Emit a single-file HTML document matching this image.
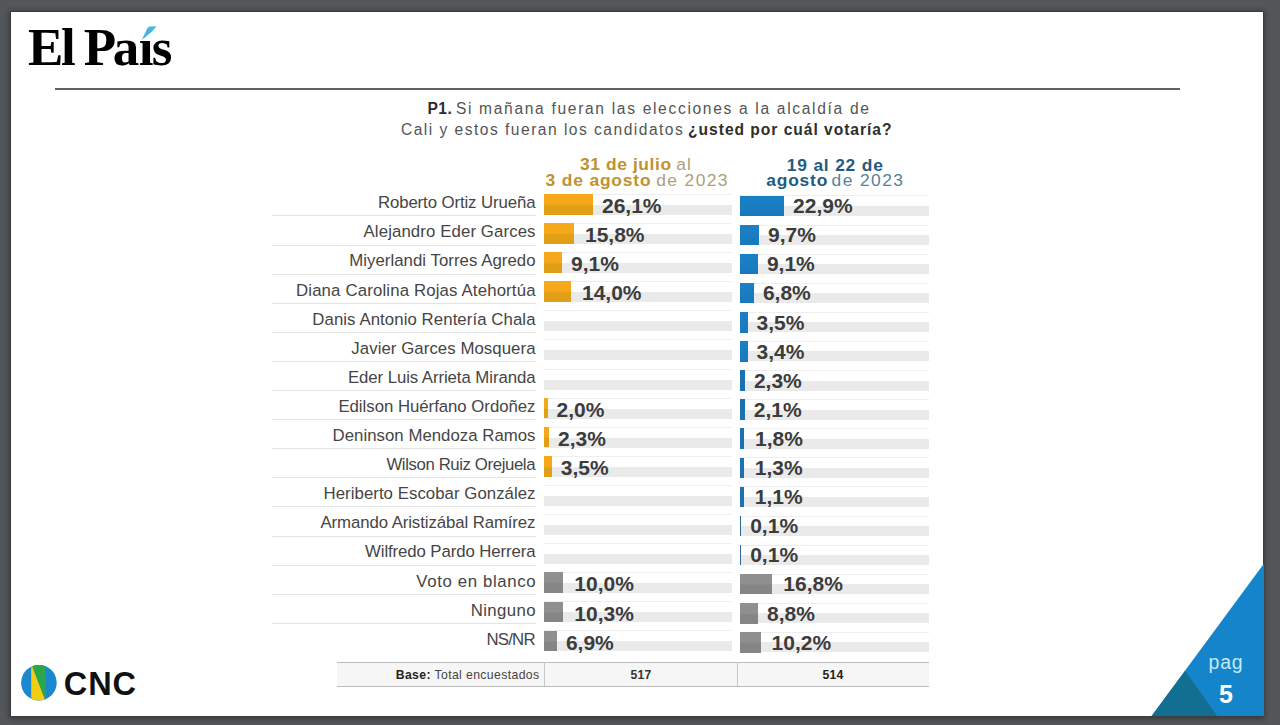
<!DOCTYPE html>
<html><head><meta charset="utf-8">
<style>
html,body{margin:0;padding:0;}
body{width:1280px;height:725px;overflow:hidden;background:#53575a;position:relative;font-family:"Liberation Sans", sans-serif;}
.t{position:absolute;white-space:nowrap;line-height:0;}
.r{position:absolute;}
</style></head><body>
<div class="r" style="left:10.50px;top:11.80px;width:1252.80px;height:704.00px;background:#ffffff;box-shadow:0 0 0 1px #3b3d3f, 0 1px 5px 2px rgba(20,22,24,0.45);"></div>
<div class="t" style="left:28.00px;top:47.14px;font-size:53px;color:#000;font-weight:bold;letter-spacing:0px;font-family:'Liberation Serif', serif;">E</div>
<div class="t" style="left:61.10px;top:47.14px;font-size:53px;color:#000;font-weight:bold;letter-spacing:0px;font-family:'Liberation Serif', serif;">l</div>
<div class="t" style="left:83.80px;top:47.14px;font-size:53px;color:#000;font-weight:bold;letter-spacing:0px;font-family:'Liberation Serif', serif;">P</div>
<div class="t" style="left:112.80px;top:47.14px;font-size:53px;color:#000;font-weight:bold;letter-spacing:0px;font-family:'Liberation Serif', serif;">a</div>
<div class="t" style="left:138.80px;top:47.14px;font-size:53px;color:#000;font-weight:bold;letter-spacing:0px;font-family:'Liberation Serif', serif;">ı</div>
<div class="t" style="left:151.80px;top:47.14px;font-size:53px;color:#000;font-weight:bold;letter-spacing:0px;font-family:'Liberation Serif', serif;">s</div>
<svg class="r" style="left:0;top:0" width="200" height="80"><polygon points="141.8,39.8 147.5,28 149.5,26.6 156.5,26.2 151.5,32 145,37.5" fill="#48b6df"/></svg>
<div class="r" style="left:55.00px;top:88.30px;width:1124.50px;height:2.00px;background:#616161;"></div>
<div class="t" style="left:427.40px;top:109.09px;font-size:15.6px;color:#2e2e2e;font-weight:bold;letter-spacing:0.526px;font-family:'Liberation Sans', sans-serif;">P1.</div>
<div class="t" style="left:455.90px;top:109.09px;font-size:15.6px;color:#555;font-weight:normal;letter-spacing:1.669px;font-family:'Liberation Sans', sans-serif;">Si mañana fueran las elecciones a la alcaldía de</div>
<div class="t" style="left:400.90px;top:129.69px;font-size:15.6px;color:#555;font-weight:normal;letter-spacing:1.477px;font-family:'Liberation Sans', sans-serif;">Cali y estos fueran los candidatos</div>
<div class="t" style="left:688.10px;top:129.69px;font-size:15.6px;color:#2e2e2e;font-weight:bold;letter-spacing:0.97px;font-family:'Liberation Sans', sans-serif;">¿usted por cuál votaría?</div>
<div class="t" style="left:580.00px;top:164.27px;font-size:17.4px;color:#c0912f;font-weight:bold;letter-spacing:0.596px;font-family:'Liberation Sans', sans-serif;">31 de julio</div>
<div class="t" style="left:676.20px;top:164.27px;font-size:17.4px;color:#ad9f78;font-weight:normal;letter-spacing:1.2px;font-family:'Liberation Sans', sans-serif;">al</div>
<div class="t" style="left:545.60px;top:179.57px;font-size:17.4px;color:#c0912f;font-weight:bold;letter-spacing:0.836px;font-family:'Liberation Sans', sans-serif;">3 de agosto</div>
<div class="t" style="left:656.20px;top:179.57px;font-size:17.4px;color:#ad9f78;font-weight:normal;letter-spacing:1.406px;font-family:'Liberation Sans', sans-serif;">de 2023</div>
<div class="t" style="left:786.80px;top:164.57px;font-size:17.4px;color:#1f5b80;font-weight:bold;letter-spacing:0.806px;font-family:'Liberation Sans', sans-serif;">19 al 22 de</div>
<div class="t" style="left:766.30px;top:179.87px;font-size:17.4px;color:#1f5b80;font-weight:bold;letter-spacing:0.799px;font-family:'Liberation Sans', sans-serif;">agosto</div>
<div class="t" style="left:831.60px;top:179.87px;font-size:17.4px;color:#56829a;font-weight:normal;letter-spacing:1.406px;font-family:'Liberation Sans', sans-serif;">de 2023</div>
<div class="t" style="right:744.60px;text-align:right;top:203.28px;font-size:16.8px;color:#454545;font-weight:normal;letter-spacing:-0.1px;font-family:'Liberation Sans', sans-serif;">Roberto Ortiz Urueña</div>
<div class="r" style="left:272.00px;top:215.40px;width:264.00px;height:1.00px;background:#e3e3e3;"></div>
<div class="r" style="left:544.00px;top:193.90px;width:187.50px;height:1.00px;background:#eeeeee;"></div>
<div class="r" style="left:544.00px;top:204.90px;width:187.50px;height:10.00px;background:#eaeaea;"></div>
<div class="r" style="left:740.00px;top:195.40px;width:188.50px;height:1.00px;background:#eeeeee;"></div>
<div class="r" style="left:740.00px;top:205.90px;width:188.50px;height:10.00px;background:#eaeaea;"></div>
<div class="r" style="left:544.00px;top:194.10px;width:49.00px;height:20.50px;background:linear-gradient(#f5a91b 0%,#f5a71a 48%,#e19f16 58%,#e09f16 100%);"></div>
<div class="t" style="left:602.00px;top:206.12px;font-size:21px;color:#3c3c3c;font-weight:bold;letter-spacing:0px;font-family:'Liberation Sans', sans-serif;">26,1%</div>
<div class="r" style="left:740.00px;top:195.60px;width:44.10px;height:20.50px;background:linear-gradient(#1b80c6 0%,#1a7dc2 50%,#1878bc 100%);"></div>
<div class="t" style="left:793.10px;top:206.12px;font-size:21px;color:#3c3c3c;font-weight:bold;letter-spacing:0px;font-family:'Liberation Sans', sans-serif;">22,9%</div>
<div class="t" style="right:744.39px;text-align:right;top:232.38px;font-size:16.8px;color:#454545;font-weight:normal;letter-spacing:0.11px;font-family:'Liberation Sans', sans-serif;">Alejandro Eder Garces</div>
<div class="r" style="left:272.00px;top:244.50px;width:264.00px;height:1.00px;background:#e3e3e3;"></div>
<div class="r" style="left:544.00px;top:223.00px;width:187.50px;height:1.00px;background:#eeeeee;"></div>
<div class="r" style="left:544.00px;top:234.00px;width:187.50px;height:10.00px;background:#eaeaea;"></div>
<div class="r" style="left:740.00px;top:224.50px;width:188.50px;height:1.00px;background:#eeeeee;"></div>
<div class="r" style="left:740.00px;top:235.00px;width:188.50px;height:10.00px;background:#eaeaea;"></div>
<div class="r" style="left:544.00px;top:223.20px;width:30.00px;height:20.50px;background:linear-gradient(#f5a91b 0%,#f5a71a 48%,#e19f16 58%,#e09f16 100%);"></div>
<div class="t" style="left:585.00px;top:235.22px;font-size:21px;color:#3c3c3c;font-weight:bold;letter-spacing:0px;font-family:'Liberation Sans', sans-serif;">15,8%</div>
<div class="r" style="left:740.00px;top:224.70px;width:19.00px;height:20.50px;background:linear-gradient(#1b80c6 0%,#1a7dc2 50%,#1878bc 100%);"></div>
<div class="t" style="left:768.00px;top:235.22px;font-size:21px;color:#3c3c3c;font-weight:bold;letter-spacing:0px;font-family:'Liberation Sans', sans-serif;">9,7%</div>
<div class="t" style="right:744.46px;text-align:right;top:261.48px;font-size:16.8px;color:#454545;font-weight:normal;letter-spacing:0.042px;font-family:'Liberation Sans', sans-serif;">Miyerlandi Torres Agredo</div>
<div class="r" style="left:272.00px;top:273.60px;width:264.00px;height:1.00px;background:#e3e3e3;"></div>
<div class="r" style="left:544.00px;top:252.10px;width:187.50px;height:1.00px;background:#eeeeee;"></div>
<div class="r" style="left:544.00px;top:263.10px;width:187.50px;height:10.00px;background:#eaeaea;"></div>
<div class="r" style="left:740.00px;top:253.60px;width:188.50px;height:1.00px;background:#eeeeee;"></div>
<div class="r" style="left:740.00px;top:264.10px;width:188.50px;height:10.00px;background:#eaeaea;"></div>
<div class="r" style="left:544.00px;top:252.30px;width:18.10px;height:20.50px;background:linear-gradient(#f5a91b 0%,#f5a71a 48%,#e19f16 58%,#e09f16 100%);"></div>
<div class="t" style="left:571.10px;top:264.32px;font-size:21px;color:#3c3c3c;font-weight:bold;letter-spacing:0px;font-family:'Liberation Sans', sans-serif;">9,1%</div>
<div class="r" style="left:740.00px;top:253.80px;width:17.90px;height:20.50px;background:linear-gradient(#1b80c6 0%,#1a7dc2 50%,#1878bc 100%);"></div>
<div class="t" style="left:766.90px;top:264.32px;font-size:21px;color:#3c3c3c;font-weight:bold;letter-spacing:0px;font-family:'Liberation Sans', sans-serif;">9,1%</div>
<div class="t" style="right:744.35px;text-align:right;top:290.58px;font-size:16.8px;color:#454545;font-weight:normal;letter-spacing:0.153px;font-family:'Liberation Sans', sans-serif;">Diana Carolina Rojas Atehortúa</div>
<div class="r" style="left:272.00px;top:302.70px;width:264.00px;height:1.00px;background:#e3e3e3;"></div>
<div class="r" style="left:544.00px;top:281.20px;width:187.50px;height:1.00px;background:#eeeeee;"></div>
<div class="r" style="left:544.00px;top:292.20px;width:187.50px;height:10.00px;background:#eaeaea;"></div>
<div class="r" style="left:740.00px;top:282.70px;width:188.50px;height:1.00px;background:#eeeeee;"></div>
<div class="r" style="left:740.00px;top:293.20px;width:188.50px;height:10.00px;background:#eaeaea;"></div>
<div class="r" style="left:544.00px;top:281.40px;width:27.00px;height:20.50px;background:linear-gradient(#f5a91b 0%,#f5a71a 48%,#e19f16 58%,#e09f16 100%);"></div>
<div class="t" style="left:582.00px;top:293.42px;font-size:21px;color:#3c3c3c;font-weight:bold;letter-spacing:0px;font-family:'Liberation Sans', sans-serif;">14,0%</div>
<div class="r" style="left:740.00px;top:282.90px;width:13.90px;height:20.50px;background:linear-gradient(#1b80c6 0%,#1a7dc2 50%,#1878bc 100%);"></div>
<div class="t" style="left:762.90px;top:293.42px;font-size:21px;color:#3c3c3c;font-weight:bold;letter-spacing:0px;font-family:'Liberation Sans', sans-serif;">6,8%</div>
<div class="t" style="right:744.42px;text-align:right;top:319.68px;font-size:16.8px;color:#454545;font-weight:normal;letter-spacing:0.079px;font-family:'Liberation Sans', sans-serif;">Danis Antonio Rentería Chala</div>
<div class="r" style="left:272.00px;top:331.80px;width:264.00px;height:1.00px;background:#e3e3e3;"></div>
<div class="r" style="left:544.00px;top:310.30px;width:187.50px;height:1.00px;background:#eeeeee;"></div>
<div class="r" style="left:544.00px;top:321.30px;width:187.50px;height:10.00px;background:#eaeaea;"></div>
<div class="r" style="left:740.00px;top:311.80px;width:188.50px;height:1.00px;background:#eeeeee;"></div>
<div class="r" style="left:740.00px;top:322.30px;width:188.50px;height:10.00px;background:#eaeaea;"></div>
<div class="r" style="left:740.00px;top:312.00px;width:7.50px;height:20.50px;background:linear-gradient(#1b80c6 0%,#1a7dc2 50%,#1878bc 100%);"></div>
<div class="t" style="left:756.50px;top:322.52px;font-size:21px;color:#3c3c3c;font-weight:bold;letter-spacing:0px;font-family:'Liberation Sans', sans-serif;">3,5%</div>
<div class="t" style="right:744.44px;text-align:right;top:348.78px;font-size:16.8px;color:#454545;font-weight:normal;letter-spacing:0.064px;font-family:'Liberation Sans', sans-serif;">Javier Garces Mosquera</div>
<div class="r" style="left:272.00px;top:360.90px;width:264.00px;height:1.00px;background:#e3e3e3;"></div>
<div class="r" style="left:544.00px;top:339.40px;width:187.50px;height:1.00px;background:#eeeeee;"></div>
<div class="r" style="left:544.00px;top:350.40px;width:187.50px;height:10.00px;background:#eaeaea;"></div>
<div class="r" style="left:740.00px;top:340.90px;width:188.50px;height:1.00px;background:#eeeeee;"></div>
<div class="r" style="left:740.00px;top:351.40px;width:188.50px;height:10.00px;background:#eaeaea;"></div>
<div class="r" style="left:740.00px;top:341.10px;width:7.50px;height:20.50px;background:linear-gradient(#1b80c6 0%,#1a7dc2 50%,#1878bc 100%);"></div>
<div class="t" style="left:756.50px;top:351.62px;font-size:21px;color:#3c3c3c;font-weight:bold;letter-spacing:0px;font-family:'Liberation Sans', sans-serif;">3,4%</div>
<div class="t" style="right:744.57px;text-align:right;top:377.88px;font-size:16.8px;color:#454545;font-weight:normal;letter-spacing:-0.072px;font-family:'Liberation Sans', sans-serif;">Eder Luis Arrieta Miranda</div>
<div class="r" style="left:272.00px;top:390.00px;width:264.00px;height:1.00px;background:#e3e3e3;"></div>
<div class="r" style="left:544.00px;top:368.50px;width:187.50px;height:1.00px;background:#eeeeee;"></div>
<div class="r" style="left:544.00px;top:379.50px;width:187.50px;height:10.00px;background:#eaeaea;"></div>
<div class="r" style="left:740.00px;top:370.00px;width:188.50px;height:1.00px;background:#eeeeee;"></div>
<div class="r" style="left:740.00px;top:380.50px;width:188.50px;height:10.00px;background:#eaeaea;"></div>
<div class="r" style="left:740.00px;top:370.20px;width:4.90px;height:20.50px;background:#1a72b0;"></div>
<div class="t" style="left:753.90px;top:380.72px;font-size:21px;color:#3c3c3c;font-weight:bold;letter-spacing:0px;font-family:'Liberation Sans', sans-serif;">2,3%</div>
<div class="t" style="right:744.53px;text-align:right;top:406.98px;font-size:16.8px;color:#454545;font-weight:normal;letter-spacing:-0.029px;font-family:'Liberation Sans', sans-serif;">Edilson Huérfano Ordoñez</div>
<div class="r" style="left:272.00px;top:419.10px;width:264.00px;height:1.00px;background:#e3e3e3;"></div>
<div class="r" style="left:544.00px;top:397.60px;width:187.50px;height:1.00px;background:#eeeeee;"></div>
<div class="r" style="left:544.00px;top:408.60px;width:187.50px;height:10.00px;background:#eaeaea;"></div>
<div class="r" style="left:740.00px;top:399.10px;width:188.50px;height:1.00px;background:#eeeeee;"></div>
<div class="r" style="left:740.00px;top:409.60px;width:188.50px;height:10.00px;background:#eaeaea;"></div>
<div class="r" style="left:544.00px;top:397.80px;width:3.60px;height:20.50px;background:linear-gradient(#f5a91b 0%,#f5a71a 48%,#e19f16 58%,#e09f16 100%);"></div>
<div class="t" style="left:556.60px;top:409.82px;font-size:21px;color:#3c3c3c;font-weight:bold;letter-spacing:0px;font-family:'Liberation Sans', sans-serif;">2,0%</div>
<div class="r" style="left:740.00px;top:399.30px;width:4.80px;height:20.50px;background:#1a72b0;"></div>
<div class="t" style="left:753.80px;top:409.82px;font-size:21px;color:#3c3c3c;font-weight:bold;letter-spacing:0px;font-family:'Liberation Sans', sans-serif;">2,1%</div>
<div class="t" style="right:744.48px;text-align:right;top:436.08px;font-size:16.8px;color:#454545;font-weight:normal;letter-spacing:0.023px;font-family:'Liberation Sans', sans-serif;">Deninson Mendoza Ramos</div>
<div class="r" style="left:272.00px;top:448.20px;width:264.00px;height:1.00px;background:#e3e3e3;"></div>
<div class="r" style="left:544.00px;top:426.70px;width:187.50px;height:1.00px;background:#eeeeee;"></div>
<div class="r" style="left:544.00px;top:437.70px;width:187.50px;height:10.00px;background:#eaeaea;"></div>
<div class="r" style="left:740.00px;top:428.20px;width:188.50px;height:1.00px;background:#eeeeee;"></div>
<div class="r" style="left:740.00px;top:438.70px;width:188.50px;height:10.00px;background:#eaeaea;"></div>
<div class="r" style="left:544.00px;top:426.90px;width:5.00px;height:20.50px;background:linear-gradient(#f5a91b 0%,#f5a71a 48%,#e19f16 58%,#e09f16 100%);"></div>
<div class="t" style="left:558.00px;top:438.92px;font-size:21px;color:#3c3c3c;font-weight:bold;letter-spacing:0px;font-family:'Liberation Sans', sans-serif;">2,3%</div>
<div class="r" style="left:740.00px;top:428.40px;width:4.10px;height:20.50px;background:#1a72b0;"></div>
<div class="t" style="left:755.10px;top:438.92px;font-size:21px;color:#3c3c3c;font-weight:bold;letter-spacing:0px;font-family:'Liberation Sans', sans-serif;">1,8%</div>
<div class="t" style="right:744.90px;text-align:right;top:465.18px;font-size:16.8px;color:#454545;font-weight:normal;letter-spacing:-0.4px;font-family:'Liberation Sans', sans-serif;">Wilson Ruiz Orejuela</div>
<div class="r" style="left:272.00px;top:477.30px;width:264.00px;height:1.00px;background:#e3e3e3;"></div>
<div class="r" style="left:544.00px;top:455.80px;width:187.50px;height:1.00px;background:#eeeeee;"></div>
<div class="r" style="left:544.00px;top:466.80px;width:187.50px;height:10.00px;background:#eaeaea;"></div>
<div class="r" style="left:740.00px;top:457.30px;width:188.50px;height:1.00px;background:#eeeeee;"></div>
<div class="r" style="left:740.00px;top:467.80px;width:188.50px;height:10.00px;background:#eaeaea;"></div>
<div class="r" style="left:544.00px;top:456.00px;width:7.80px;height:20.50px;background:linear-gradient(#f5a91b 0%,#f5a71a 48%,#e19f16 58%,#e09f16 100%);"></div>
<div class="t" style="left:560.80px;top:468.02px;font-size:21px;color:#3c3c3c;font-weight:bold;letter-spacing:0px;font-family:'Liberation Sans', sans-serif;">3,5%</div>
<div class="r" style="left:740.00px;top:457.50px;width:3.80px;height:20.50px;background:#1a72b0;"></div>
<div class="t" style="left:754.80px;top:468.02px;font-size:21px;color:#3c3c3c;font-weight:bold;letter-spacing:0px;font-family:'Liberation Sans', sans-serif;">1,3%</div>
<div class="t" style="right:744.45px;text-align:right;top:494.28px;font-size:16.8px;color:#454545;font-weight:normal;letter-spacing:0.046px;font-family:'Liberation Sans', sans-serif;">Heriberto Escobar González</div>
<div class="r" style="left:272.00px;top:506.40px;width:264.00px;height:1.00px;background:#e3e3e3;"></div>
<div class="r" style="left:544.00px;top:484.90px;width:187.50px;height:1.00px;background:#eeeeee;"></div>
<div class="r" style="left:544.00px;top:495.90px;width:187.50px;height:10.00px;background:#eaeaea;"></div>
<div class="r" style="left:740.00px;top:486.40px;width:188.50px;height:1.00px;background:#eeeeee;"></div>
<div class="r" style="left:740.00px;top:496.90px;width:188.50px;height:10.00px;background:#eaeaea;"></div>
<div class="r" style="left:740.00px;top:486.60px;width:3.80px;height:20.50px;background:#1a72b0;"></div>
<div class="t" style="left:754.80px;top:497.12px;font-size:21px;color:#3c3c3c;font-weight:bold;letter-spacing:0px;font-family:'Liberation Sans', sans-serif;">1,1%</div>
<div class="t" style="right:744.59px;text-align:right;top:523.38px;font-size:16.8px;color:#454545;font-weight:normal;letter-spacing:-0.089px;font-family:'Liberation Sans', sans-serif;">Armando Aristizábal Ramírez</div>
<div class="r" style="left:272.00px;top:535.50px;width:264.00px;height:1.00px;background:#e3e3e3;"></div>
<div class="r" style="left:544.00px;top:514.00px;width:187.50px;height:1.00px;background:#eeeeee;"></div>
<div class="r" style="left:544.00px;top:525.00px;width:187.50px;height:10.00px;background:#eaeaea;"></div>
<div class="r" style="left:740.00px;top:515.50px;width:188.50px;height:1.00px;background:#eeeeee;"></div>
<div class="r" style="left:740.00px;top:526.00px;width:188.50px;height:10.00px;background:#eaeaea;"></div>
<div class="r" style="left:740.00px;top:515.70px;width:1.20px;height:20.50px;background:#2a6a95;"></div>
<div class="t" style="left:750.20px;top:526.22px;font-size:21px;color:#3c3c3c;font-weight:bold;letter-spacing:0px;font-family:'Liberation Sans', sans-serif;">0,1%</div>
<div class="t" style="right:744.60px;text-align:right;top:552.48px;font-size:16.8px;color:#454545;font-weight:normal;letter-spacing:-0.1px;font-family:'Liberation Sans', sans-serif;">Wilfredo Pardo Herrera</div>
<div class="r" style="left:272.00px;top:564.60px;width:264.00px;height:1.00px;background:#e3e3e3;"></div>
<div class="r" style="left:544.00px;top:543.10px;width:187.50px;height:1.00px;background:#eeeeee;"></div>
<div class="r" style="left:544.00px;top:554.10px;width:187.50px;height:10.00px;background:#eaeaea;"></div>
<div class="r" style="left:740.00px;top:544.60px;width:188.50px;height:1.00px;background:#eeeeee;"></div>
<div class="r" style="left:740.00px;top:555.10px;width:188.50px;height:10.00px;background:#eaeaea;"></div>
<div class="r" style="left:740.00px;top:544.80px;width:1.20px;height:20.50px;background:#2a6a95;"></div>
<div class="t" style="left:750.20px;top:555.32px;font-size:21px;color:#3c3c3c;font-weight:bold;letter-spacing:0px;font-family:'Liberation Sans', sans-serif;">0,1%</div>
<div class="t" style="right:743.87px;text-align:right;top:581.58px;font-size:16.8px;color:#454545;font-weight:normal;letter-spacing:0.629px;font-family:'Liberation Sans', sans-serif;">Voto en blanco</div>
<div class="r" style="left:272.00px;top:593.70px;width:264.00px;height:1.00px;background:#e3e3e3;"></div>
<div class="r" style="left:544.00px;top:572.20px;width:187.50px;height:1.00px;background:#eeeeee;"></div>
<div class="r" style="left:544.00px;top:583.20px;width:187.50px;height:10.00px;background:#eaeaea;"></div>
<div class="r" style="left:740.00px;top:573.70px;width:188.50px;height:1.00px;background:#eeeeee;"></div>
<div class="r" style="left:740.00px;top:584.20px;width:188.50px;height:10.00px;background:#eaeaea;"></div>
<div class="r" style="left:544.00px;top:572.40px;width:19.30px;height:20.50px;background:linear-gradient(#909090 0%,#8f8f8f 48%,#858585 58%,#858585 100%);"></div>
<div class="t" style="left:574.30px;top:584.42px;font-size:21px;color:#3c3c3c;font-weight:bold;letter-spacing:0px;font-family:'Liberation Sans', sans-serif;">10,0%</div>
<div class="r" style="left:740.00px;top:573.90px;width:32.30px;height:20.50px;background:linear-gradient(#909090 0%,#8f8f8f 48%,#858585 58%,#858585 100%);"></div>
<div class="t" style="left:783.30px;top:584.42px;font-size:21px;color:#3c3c3c;font-weight:bold;letter-spacing:0px;font-family:'Liberation Sans', sans-serif;">16,8%</div>
<div class="t" style="right:744.13px;text-align:right;top:610.68px;font-size:16.8px;color:#454545;font-weight:normal;letter-spacing:0.371px;font-family:'Liberation Sans', sans-serif;">Ninguno</div>
<div class="r" style="left:272.00px;top:622.80px;width:264.00px;height:1.00px;background:#e3e3e3;"></div>
<div class="r" style="left:544.00px;top:601.30px;width:187.50px;height:1.00px;background:#eeeeee;"></div>
<div class="r" style="left:544.00px;top:612.30px;width:187.50px;height:10.00px;background:#eaeaea;"></div>
<div class="r" style="left:740.00px;top:602.80px;width:188.50px;height:1.00px;background:#eeeeee;"></div>
<div class="r" style="left:740.00px;top:613.30px;width:188.50px;height:10.00px;background:#eaeaea;"></div>
<div class="r" style="left:544.00px;top:601.50px;width:19.30px;height:20.50px;background:linear-gradient(#909090 0%,#8f8f8f 48%,#858585 58%,#858585 100%);"></div>
<div class="t" style="left:574.30px;top:613.52px;font-size:21px;color:#3c3c3c;font-weight:bold;letter-spacing:0px;font-family:'Liberation Sans', sans-serif;">10,3%</div>
<div class="r" style="left:740.00px;top:603.00px;width:18.10px;height:20.50px;background:linear-gradient(#909090 0%,#8f8f8f 48%,#858585 58%,#858585 100%);"></div>
<div class="t" style="left:767.10px;top:613.52px;font-size:21px;color:#3c3c3c;font-weight:bold;letter-spacing:0px;font-family:'Liberation Sans', sans-serif;">8,8%</div>
<div class="t" style="right:745.28px;text-align:right;top:639.78px;font-size:16.8px;color:#454545;font-weight:normal;letter-spacing:-0.78px;font-family:'Liberation Sans', sans-serif;">NS/NR</div>
<div class="r" style="left:544.00px;top:630.40px;width:187.50px;height:1.00px;background:#eeeeee;"></div>
<div class="r" style="left:544.00px;top:641.40px;width:187.50px;height:10.00px;background:#eaeaea;"></div>
<div class="r" style="left:740.00px;top:631.90px;width:188.50px;height:1.00px;background:#eeeeee;"></div>
<div class="r" style="left:740.00px;top:642.40px;width:188.50px;height:10.00px;background:#eaeaea;"></div>
<div class="r" style="left:544.00px;top:630.60px;width:12.90px;height:20.50px;background:linear-gradient(#909090 0%,#8f8f8f 48%,#858585 58%,#858585 100%);"></div>
<div class="t" style="left:565.90px;top:642.62px;font-size:21px;color:#3c3c3c;font-weight:bold;letter-spacing:0px;font-family:'Liberation Sans', sans-serif;">6,9%</div>
<div class="r" style="left:740.00px;top:632.10px;width:20.60px;height:20.50px;background:linear-gradient(#909090 0%,#8f8f8f 48%,#858585 58%,#858585 100%);"></div>
<div class="t" style="left:771.60px;top:642.62px;font-size:21px;color:#3c3c3c;font-weight:bold;letter-spacing:0px;font-family:'Liberation Sans', sans-serif;">10,2%</div>
<div class="r" style="left:337.00px;top:661.50px;width:592.00px;height:25.00px;background:#f6f6f6;border-top:1px solid #bdbdbd;border-bottom:1px solid #bdbdbd;box-sizing:border-box;"></div>
<div class="r" style="left:544.30px;top:662.00px;width:1.00px;height:24.00px;background:#c8c8c8;"></div>
<div class="r" style="left:736.50px;top:662.00px;width:1.00px;height:24.00px;background:#c8c8c8;"></div>
<div class="t" style="right:740.50px;text-align:right;top:675.37px;font-size:12.2px;color:#444;font-weight:normal;letter-spacing:0.4px;font-family:'Liberation Sans', sans-serif;"><b style="color:#222">Base:</b> Total encuestados</div>
<div class="t" style="left:241.00px;width:800px;text-align:center;top:675.37px;font-size:12.2px;color:#333;font-weight:bold;letter-spacing:0.3px;font-family:'Liberation Sans', sans-serif;">517</div>
<div class="t" style="left:433.00px;width:800px;text-align:center;top:675.37px;font-size:12.2px;color:#222;font-weight:bold;letter-spacing:0.3px;font-family:'Liberation Sans', sans-serif;">514</div>
<svg class="r" style="left:20px;top:664px" width="38" height="38" viewBox="0 0 38 38">
<defs><clipPath id="cc"><circle cx="18.9" cy="18.7" r="17.8"/></clipPath></defs>
<g clip-path="url(#cc)">
<rect x="0" y="0" width="38" height="38" fill="#1a88cc"/>
<polygon points="11.2,0 25.8,0 25.8,38" fill="#2ba64b"/>
<polygon points="11.2,0 11.2,38 25.8,38" fill="#f3cd12"/>
</g></svg>
<div class="t" style="left:63.80px;top:683.74px;font-size:32.5px;color:#111;font-weight:bold;letter-spacing:0.9px;font-family:'Liberation Sans', sans-serif;">CNC</div>
<svg class="r" style="left:0;top:0" width="1280" height="725">
<polygon points="1151.6,716 1264,563.5 1264,716" fill="#1585cb"/>
<polygon points="1151.6,716 1185.2,670.8 1217.2,716" fill="#126f92"/>
</svg>
<div class="t" style="left:826.00px;width:800px;text-align:center;top:662.44px;font-size:19.5px;color:#c4e7f8;font-weight:normal;letter-spacing:0.8px;font-family:'Liberation Sans', sans-serif;">pag</div>
<div class="t" style="left:826.00px;width:800px;text-align:center;top:693.64px;font-size:25px;color:#ffffff;font-weight:bold;letter-spacing:0px;font-family:'Liberation Sans', sans-serif;">5</div>

</body></html>
